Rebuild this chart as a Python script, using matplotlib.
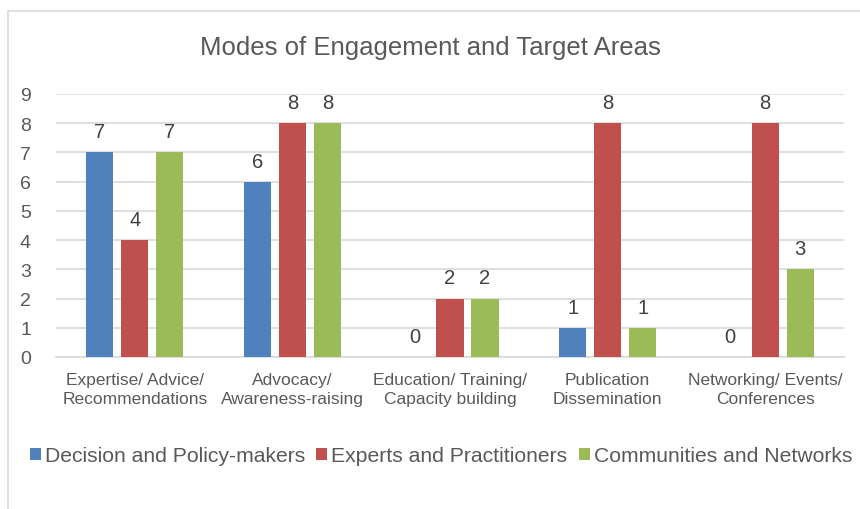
import matplotlib
matplotlib.use("Agg")
import matplotlib.pyplot as plt
import numpy as np
from matplotlib.patches import Rectangle

categories = ["Expertise/ Advice/\nRecommendations", "Advocacy/\nAwareness-raising",
              "Education/ Training/\nCapacity building", "Publication\nDissemination",
              "Networking/ Events/\nConferences"]
series_names = ["Decision and Policy-makers", "Experts and Practitioners", "Communities and Networks"]
decision = [7, 6, 0, 1, 0]
experts = [4, 8, 2, 8, 8]
communities = [7, 8, 2, 1, 3]
colors = ["#4F81BD", "#C0504D", "#9BBB59"]
yticks = list(range(0, 10))

plt.rcParams['font.family'] = ['Liberation Sans', 'DejaVu Sans']
W, H = 860, 510
fig = plt.figure(figsize=(W / 100, H / 100), dpi=100)
fig.patch.set_facecolor("white")

# outer chart border
fig.patches.append(Rectangle((8 / W, -0.1), 1.2, (H - 12) / H + 0.1, transform=fig.transFigure,
                             fill=False, edgecolor="#D9D9D9", linewidth=1.2))

ax = fig.add_axes([56 / W, (H - 358) / H, (844 - 56) / W, (358 - 95) / H])
x = np.arange(len(categories))
bw = 0.172
off = 0.222
text_col = "#595959"
for i, (vals, name, c) in enumerate(zip([decision, experts, communities], series_names, colors)):
    pos = x + (i - 1) * off
    bars = ax.bar(pos, vals, width=bw, color=c, label=name, zorder=3)
    for p, v in zip(pos, vals):
        ax.text(p, v + 0.38, str(v), ha="center", va="bottom", fontsize=14.5, color="#404040")

ax.set_xlim(-0.5, len(categories) - 0.5)
ax.set_ylim(0, 9)
ax.set_yticks(yticks)
ax.yaxis.grid(True, color="#D9D9D9", linewidth=1.2, zorder=0)
ax.set_axisbelow(True)
for s in ["top", "right", "left"]:
    ax.spines[s].set_visible(False)
ax.spines["bottom"].set_color("#D9D9D9")
ax.spines["bottom"].set_linewidth(1.2)
ax.tick_params(axis="y", length=0, labelsize=14, labelcolor=text_col, pad=18)
ax.tick_params(axis="x", length=0, labelsize=12.5, labelcolor=text_col, pad=11)
ax.set_xticks(x)
ax.set_xticklabels(categories, linespacing=1.3)

fig.text(0.5, (H - 48) / H, "Modes of Engagement and Target Areas", ha="center", va="center",
         fontsize=18.5, color=text_col)

handles, labels = ax.get_legend_handles_labels()
fig.legend(handles, labels, loc="center", bbox_to_anchor=(441 / W, (H - 457) / H), ncol=3,
           frameon=False, fontsize=15.2, labelcolor=text_col, handlelength=0.52, handleheight=0.52,
           handletextpad=0.2, columnspacing=0.52, borderpad=0, borderaxespad=0)

fig.savefig("out.png", dpi=100)
